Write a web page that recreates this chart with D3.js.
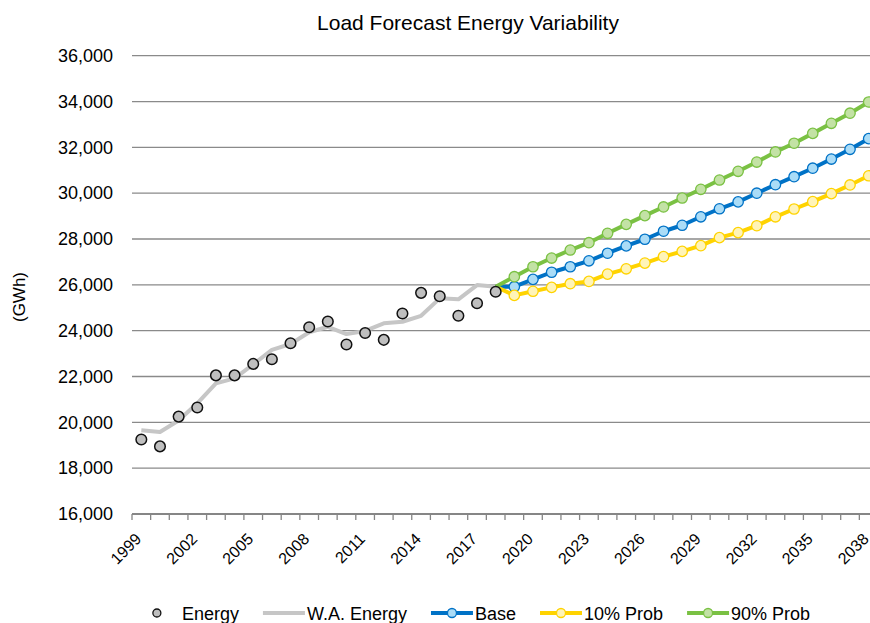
<!DOCTYPE html>
<html>
<head>
<meta charset="utf-8" />
<title>Load Forecast Energy Variability</title>
<style>
html, body {
	margin:0;
	padding:0;
	background:#ffffff;
}
svg {
	font-family: 'Liberation Sans', Arial, sans-serif;
	display:block;
}
</style>
</head>
<body>

<script type="text/javascript" src="https://cdn.jsdelivr.net/npm/d3@7/dist/d3.min.js"></script>

<script>

//=======================================
// data
//=======================================

let years = d3.range(1999, 2039).map(String);

let yearLabels = ['1999','2002','2005','2008','2011','2014','2017','2020','2023','2026','2029','2032','2035','2038'];

let yTicks = [16000,18000,20000,22000,24000,26000,28000,30000,32000,34000,36000];

// actual energy, 1999-2018
let energy = [19250,18950,20250,20650,22050,22050,22550,22750,23450,24150,24400,23400,23900,23600,24750,25650,25500,24650,25200,25700];

// weather adjusted energy, 1999-2018
let waEnergy = [19650,19580,20080,20830,21700,21920,22530,23160,23420,23930,24170,23850,23990,24320,24390,24650,25410,25370,25990,25920];

// forecasts, 2018-2038
let base = [25920,25920,26240,26550,26790,27050,27380,27700,27990,28340,28600,28970,29320,29620,30000,30370,30720,31090,31490,31915,32380];

let prob10 = [25920,25540,25720,25890,26050,26150,26470,26700,26950,27230,27460,27710,28060,28280,28580,28970,29310,29630,29980,30360,30760];

let prob90 = [25920,26355,26790,27170,27520,27840,28250,28640,29020,29400,29790,30170,30575,30955,31360,31800,32180,32610,33050,33490,33980];


//=======================================
// chart
//=======================================

let width = 870,
		height = 623,
		margin = {top:55.7, left:132, bottom:109},
		plotRight = 132 + 40*18.65,

		x = d3.scaleBand().domain(years).range([margin.left, plotRight]),
		y = d3.scaleLinear().domain([16000,36000]).range([height-margin.bottom, margin.top]),
		cx = d => x(d) + x.bandwidth()/2;

let series = [
	{key:'base',   name:'Base',     values:base,   stroke:'#0072c6', fill:'#aadcf7'},
	{key:'prob10', name:'10% Prob', values:prob10, stroke:'#ffd300', fill:'#fff4b8'},
	{key:'prob90', name:'90% Prob', values:prob90, stroke:'#7ac143', fill:'#c3e2a5'},
];

let svg = d3.select('body')
	.append('svg')
		.attr('width', width)
		.attr('height', height);


//=====================
// title
//=====================
svg.append('text')
	.attr('x', 468)
	.attr('y', 30)
	.attr('text-anchor','middle')
	.attr('font-size', 21)
	.attr('fill','#000')
	.text('Load Forecast Energy Variability');

svg.append('text')
	.attr('transform','translate('+[25,297]+') rotate(-90)')
	.attr('text-anchor','middle')
	.attr('font-size', 17)
	.attr('fill','#000')
	.text('(GWh)');


//=====================
// grid + y axis
//=====================
svg.append('g').attr('class','grid')
	.selectAll('line').data(yTicks.slice(1))
		.enter()
			.append('line')
				.attr('x1', margin.left)
				.attr('x2', plotRight)
				.attr('y1', d=>y(d))
				.attr('y2', d=>y(d))
				.attr('stroke','#8a8a8a')
				.attr('stroke-width',1.3);

svg.append('g').attr('class','y-axis')
	.attr('transform','translate('+[113,0]+')')
	.call(d3.axisLeft(y).tickValues(yTicks).tickSize(0).tickPadding(0).tickFormat(d3.format(',')))
	.call(sel=>{
		sel.select('.domain').remove();
		sel.selectAll('text')
			.attr('font-size',18)
			.attr('font-family',null)
			.attr('fill','#000');
	});


//=====================
// x axis
//=====================
svg.append('g').attr('class','x-axis')
	.attr('transform','translate('+[0, y(16000)]+')')
	.call(sel=>{

		sel.append('line')
			.attr('x1', margin.left)
			.attr('x2', plotRight)
			.attr('stroke','#868686')
			.attr('stroke-width',2);

		sel.selectAll('line.tick').data(years.concat(['end']))
			.enter()
				.append('line')
					.attr('class','tick')
					.attr('x1', d=> d=='end' ? plotRight : x(d))
					.attr('x2', d=> d=='end' ? plotRight : x(d))
					.attr('y1', 0)
					.attr('y2', 6)
					.attr('stroke','#868686')
					.attr('stroke-width',1.3);

		sel.selectAll('text').data(yearLabels)
			.enter()
				.append('text')
					.attr('transform', d=>'translate('+[cx(d)+1, 26]+') rotate(-45)')
					.attr('text-anchor','end')
					.attr('font-size',16)
					.attr('fill','#000')
					.text(d=>d);
	});


//=====================
// weather adjusted energy
//=====================
svg.append('path')
	.attr('class','wa-energy')
	.attr('d', d3.line().x((d,i)=>cx(years[i])).y(d=>y(d))(waEnergy))
	.attr('fill','none')
	.attr('stroke','#c6c6c6')
	.attr('stroke-width',4)
	.attr('stroke-linejoin','round');


//=====================
// forecasts
//=====================
let fYears = years.slice(19);

svg.append('g').attr('class','forecasts')
	.selectAll('g').data(series)
		.enter()
			.append('g')
				.attr('class', d=>d.key)
				.call(sel=>{

					sel.append('path')
						.attr('d', d=>d3.line().x((v,i)=>cx(fYears[i])).y(v=>y(v))(d.values))
						.attr('fill','none')
						.attr('stroke', d=>d.stroke)
						.attr('stroke-width',4)
						.attr('stroke-linejoin','round');

					sel.selectAll('circle').data(d=>d.values.slice(1).map((v,i)=>({v:v, yr:fYears[i+1], s:d})))
						.enter()
							.append('circle')
								.attr('cx', d=>cx(d.yr))
								.attr('cy', d=>y(d.v))
								.attr('r', 5.2)
								.attr('fill', d=>d.s.fill)
								.attr('stroke', d=>d.s.stroke)
								.attr('stroke-width',1.3);
				});


//=====================
// energy
//=====================
svg.append('g').attr('class','energy')
	.selectAll('circle').data(energy)
		.enter()
			.append('circle')
				.attr('cx', (d,i)=>cx(years[i]))
				.attr('cy', d=>y(d))
				.attr('r', 5.3)
				.attr('fill','#bfbfbf')
				.attr('stroke','#111')
				.attr('stroke-width',1.5);


//=====================
// legend
//=====================
let legendItems = [
	{name:'Energy',      type:'dot'},
	{name:'W.A. Energy', type:'line', stroke:'#c6c6c6'},
].concat(series.map(d=>({name:d.name, type:'line', stroke:d.stroke, fill:d.fill})));

let legend = svg.append('g').attr('class','legend');

let lx = 0;
legend.selectAll('g').data(legendItems)
	.enter()
		.append('g')
			.each(function(d){

				let g = d3.select(this),
						sw = d.type=='dot' ? 44 : 42;

				if (d.type=='dot')	{
					g.append('circle')
						.attr('cx', 21).attr('cy', 0).attr('r', 4)
						.attr('fill','#bfbfbf').attr('stroke','#111').attr('stroke-width',1.3);
				} else {
					g.append('line')
						.attr('x1',0).attr('x2',sw)
						.attr('stroke', d.stroke).attr('stroke-width',4);
					if (d.fill)	{
						g.append('circle')
							.attr('cx', sw/2).attr('cy',0).attr('r',4.5)
							.attr('fill', d.fill).attr('stroke', d.stroke).attr('stroke-width',1.3);
					}
				}

				let t = g.append('text')
					.attr('x', sw + 2)
					.attr('y', 6.5)
					.attr('font-size',18)
					.attr('fill','#000')
					.text(d.name);

				g.attr('transform','translate('+[lx,0]+')');
				lx += sw + 2 + t.node().getComputedTextLength() + 24;
			});

legend.attr('transform','translate('+[473 - (lx-24)/2, 613]+')');

</script>

</body>
</html>
